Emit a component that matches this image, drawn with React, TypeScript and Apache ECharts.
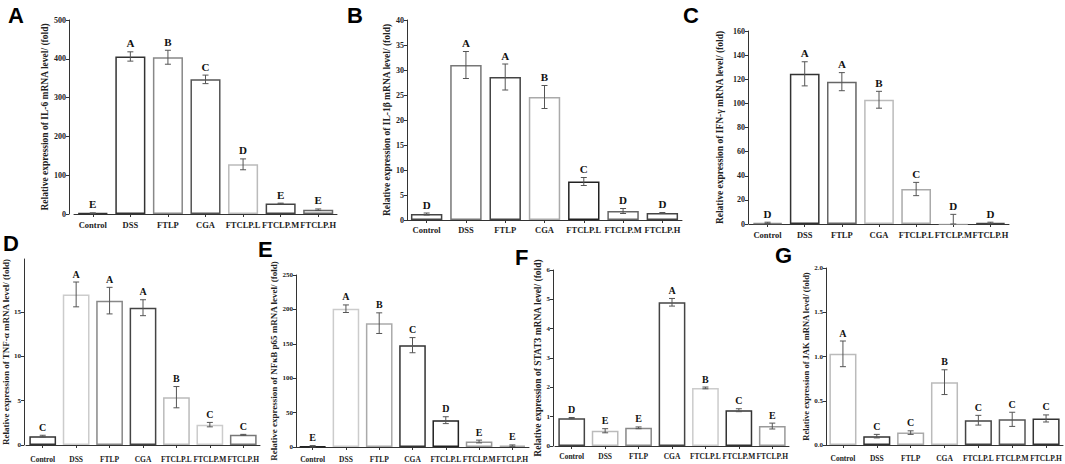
import React, { useEffect, useRef } from "react";
import * as echarts from "echarts";

const categories = ["Control", "DSS", "FTLP", "CGA", "FTCLP.L", "FTCLP.M", "FTCLP.H"];

// A: IL-6
const il6Values = [2, 406, 404, 347, 128, 27, 11];
const il6Errors = [1, 12, 18, 11, 14, 1, 2];
const il6Letters = ["E", "A", "B", "C", "D", "E", "E"];
const il6Ticks = [0, 100, 200, 300, 400, 500];

// B: IL-1β
const il1bValues = [1.2, 31, 28.6, 24.6, 7.7, 1.8, 1.4];
const il1bErrors = [0.2, 2.7, 2.6, 2.3, 0.8, 0.5, 0.1];
const il1bLetters = ["D", "A", "A", "B", "C", "D", "D"];
const il1bTicks = [0, 5, 10, 15, 20, 25, 30, 35, 40];

// C: IFN-γ
const ifngValues = [1, 124.5, 118, 103, 29, 0.5, 1];
const ifngErrors = [0.5, 10, 7.5, 7, 5.5, 7.5, 0.5];
const ifngLetters = ["D", "A", "A", "B", "C", "D", "D"];
const ifngTicks = [0, 20, 40, 60, 80, 100, 120, 140, 160];

// D: TNF-α
const tnfValues = [1, 17, 16.3, 15.5, 5.4, 2.3, 1.15];
const tnfErrors = [0.1, 1.4, 1.5, 0.9, 1.2, 0.25, 0.05];
const tnfLetters = ["C", "A", "A", "A", "B", "C", "C"];
const tnfTicks = [0, 5, 10, 15];

// E: NFκB p65
const nfkbValues = [1, 201, 180, 148, 39, 8, 2];
const nfkbErrors = [1, 5.5, 15, 11, 5, 2, 1];
const nfkbLetters = ["E", "A", "B", "C", "D", "E", "E"];
const nfkbTicks = [0, 50, 100, 150, 200, 250];

// F: STAT3
const stat3Values = [0.95, 0.52, 0.62, 4.9, 1.98, 1.22, 0.68];
const stat3Errors = [0.02, 0.07, 0.03, 0.13, 0.03, 0.05, 0.1];
const stat3Letters = ["D", "E", "E", "A", "B", "C", "E"];
const stat3Ticks = [0, 1, 2, 3, 4, 5, 6];

// G: JAK
const jakValues = [1.03, 0.1, 0.14, 0.71, 0.28, 0.29, 0.3];
const jakErrors = [0.145, 0.02, 0.02, 0.14, 0.055, 0.08, 0.04];
const jakLetters = ["A", "C", "C", "B", "C", "C", "C"];
const jakTicks = [0, 0.5, 1, 1.5, 2];

// bar outline styles
const il6Colors = ["#333", "#333", "#888", "#555", "#bbb", "#444", "#666"];
const il1bColors = ["#444", "#777", "#444", "#aaa", "#222", "#666", "#444"];
const ifngColors = ["#888", "#333", "#666", "#bbb", "#aaa", "#eee", "#444"];
const tnfColors = ["#333", "#ccc", "#888", "#444", "#bbb", "#ccc", "#777"];
const nfkbColors = ["#222", "#ccc", "#aaa", "#333", "#222", "#999", "#aaa"];
const stat3Colors = ["#444", "#bbb", "#888", "#444", "#ccc", "#333", "#999"];
const jakColors = ["#bbb", "#333", "#aaa", "#bbb", "#444", "#555", "#333"];

const SERIF = "Liberation Serif, DejaVu Serif, serif";
const SANS = "Liberation Sans, Arial, sans-serif";

const panels = [
  { tag: "A", values: il6Values, errors: il6Errors, letters: il6Letters, ticks: il6Ticks, max: 500, dec: 0, colors: il6Colors,
    name: "Relative expression of IL-6 mRNA level/ (fold)" },
  { tag: "B", values: il1bValues, errors: il1bErrors, letters: il1bLetters, ticks: il1bTicks, max: 40, dec: 0, colors: il1bColors,
    name: "Relative expression of IL-1β mRNA level/ (fold)" },
  { tag: "C", values: ifngValues, errors: ifngErrors, letters: ifngLetters, ticks: ifngTicks, max: 160, dec: 0, colors: ifngColors,
    name: "Relative expression of IFN-γ mRNA level/ (fold)" },
  { tag: "D", values: tnfValues, errors: tnfErrors, letters: tnfLetters, ticks: tnfTicks, max: 21, dec: 0, colors: tnfColors,
    name: "Relative expression of TNF-α mRNA level/ (fold)" },
  { tag: "E", values: nfkbValues, errors: nfkbErrors, letters: nfkbLetters, ticks: nfkbTicks, max: 250, dec: 0, colors: nfkbColors,
    name: "Relative expression of NFκB p65 mRNA level/ (fold)" },
  { tag: "F", values: stat3Values, errors: stat3Errors, letters: stat3Letters, ticks: stat3Ticks, max: 6, dec: 0, colors: stat3Colors,
    name: "Relative expression of STAT3 mRNA level/ (fold)" },
  { tag: "G", values: jakValues, errors: jakErrors, letters: jakLetters, ticks: jakTicks, max: 2, dec: 1, colors: jakColors,
    name: "Relative expression of JAK mRNA level/ (fold)" },
];

// layout (positions / sizes)
const layouts = [
  { grid: { left: 74, top: 20, width: 263, height: 194 }, yOffset: 5, nameGap: 16, nameSize: 9.5, tickSize: 8, catSize: 8.5, catMargin: 6, letterSize: 11, tagPos: [8, 4] },
  { grid: { left: 407, top: 20, width: 275, height: 200 }, yOffset: 0, nameGap: 15, nameSize: 9.5, tickSize: 8, catSize: 8.5, catMargin: 5, letterSize: 11, tagPos: [347, 4] },
  { grid: { left: 749, top: 31, width: 260, height: 193 }, yOffset: 1, nameGap: 23, nameSize: 9.5, tickSize: 8, catSize: 8.5, catMargin: 6, letterSize: 11, tagPos: [683, 4] },
  { grid: { left: 26, top: 259, width: 234, height: 186 }, yOffset: 2, nameGap: 9, nameSize: 9, tickSize: 7, catSize: 7.5, catMargin: 10, letterSize: 10, tagPos: [3, 232] },
  { grid: { left: 296, top: 275, width: 233, height: 172 }, yOffset: 0, nameGap: 13, nameSize: 9, tickSize: 7, catSize: 7.5, catMargin: 8, letterSize: 10, tagPos: [258, 238] },
  { grid: { left: 555, top: 270, width: 234, height: 176 }, yOffset: 2, nameGap: 6, nameSize: 9.5, tickSize: 7, catSize: 7.5, catMargin: 6, letterSize: 10, tagPos: [515, 246] },
  { grid: { left: 826, top: 268, width: 237, height: 177 }, yOffset: 0, nameGap: 16, nameSize: 8.5, tickSize: 7, catSize: 7.5, catMargin: 9, letterSize: 10, tagPos: [775, 244] },
];

function makeRender(values: number[], errors: number[], letters: string[], letterSize: number) {
  return (params: any, api: any) => {
    const i = params.dataIndex;
    const v = values[i];
    const e = errors[i];
    const hi = api.coord([i, v + e]);
    const lo = api.coord([i, Math.max(0, v - e)]);
    const cap = 3;
    const stroke = { stroke: "#555", lineWidth: 1 };
    const children: any[] = [
      { type: "line", shape: { x1: hi[0], y1: hi[1], x2: lo[0], y2: lo[1] }, style: stroke },
      { type: "line", shape: { x1: hi[0] - cap, y1: hi[1], x2: hi[0] + cap, y2: hi[1] }, style: stroke },
      { type: "line", shape: { x1: lo[0] - cap, y1: lo[1], x2: lo[0] + cap, y2: lo[1] }, style: stroke },
      {
        type: "text",
        x: hi[0],
        y: hi[1] - 3,
        style: {
          text: letters[i],
          fill: "#111",
          fontSize: letterSize,
          fontWeight: "bold",
          fontFamily: SERIF,
          align: "center",
          verticalAlign: "bottom",
        },
      },
    ];
    return { type: "group", children };
  };
}

export default function App() {
  const ref = useRef<HTMLDivElement>(null);

  useEffect(() => {
    document.body.style.margin = "0";
    if (!ref.current) return;
    const chart = echarts.init(ref.current, undefined, { renderer: "svg" });

    const grids: any[] = [];
    const xAxes: any[] = [];
    const yAxes: any[] = [];
    const series: any[] = [];
    const graphics: any[] = [];

    panels.forEach((p, k) => {
      const L = layouts[k];
      grids.push({ ...L.grid, containLabel: false });
      xAxes.push({
        type: "category",
        gridIndex: k,
        data: categories,
        axisLine: { show: true, lineStyle: { color: "#333", width: 1 } },
        axisTick: { show: true, alignWithLabel: true, length: 3, lineStyle: { color: "#333" } },
        axisLabel: {
          interval: 0,
          margin: L.catMargin,
          fontSize: L.catSize,
          fontWeight: "bold",
          fontFamily: SERIF,
          color: "#222",
        },
      });
      yAxes.push({
        type: "value",
        gridIndex: k,
        min: 0,
        max: p.max,
        offset: L.yOffset,
        name: p.name,
        nameLocation: "middle",
        nameGap: L.nameGap,
        nameTextStyle: { fontSize: L.nameSize, fontWeight: "bold", fontFamily: SERIF, color: "#222" },
        axisLine: { show: true, lineStyle: { color: "#333", width: 1 } },
        axisTick: { show: true, length: 3, customValues: p.ticks, lineStyle: { color: "#333" } },
        splitLine: { show: false },
        axisLabel: {
          customValues: p.ticks,
          margin: 3,
          fontSize: L.tickSize,
          fontWeight: "bold",
          fontFamily: SERIF,
          color: "#222",
          formatter: (val: number) => val.toFixed(p.dec),
        },
      });
      series.push({
        type: "bar",
        xAxisIndex: k,
        yAxisIndex: k,
        barWidth: "80%",
        data: p.values.map((v, i) => ({
          value: v,
          itemStyle: { color: "#fff", borderColor: p.colors[i], borderWidth: 1.5 },
        })),
      });
      series.push({
        type: "custom",
        xAxisIndex: k,
        yAxisIndex: k,
        z: 5,
        renderItem: makeRender(p.values, p.errors, p.letters, L.letterSize),
        data: p.values.map((v, i) => [i, v + p.errors[i]]),
      });
      graphics.push({
        type: "text",
        left: L.tagPos[0],
        top: L.tagPos[1],
        style: {
          text: p.tag,
          fill: "#000",
          fontSize: 22,
          fontWeight: "bold",
          fontFamily: SANS,
        },
      });
    });

    chart.setOption({
      animation: false,
      backgroundColor: "#fff",
      grid: grids,
      xAxis: xAxes,
      yAxis: yAxes,
      series,
      graphic: graphics,
    });

    return () => chart.dispose();
  }, []);

  return <div ref={ref} style={{ width: 1065, height: 464 }} />;
}
